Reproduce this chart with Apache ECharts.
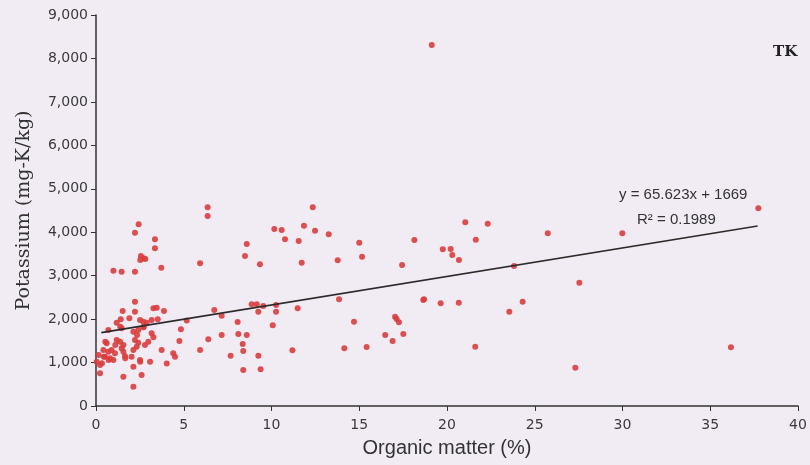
<!DOCTYPE html>
<html>
<head>
<meta charset="utf-8">
<script src="https://cdn.jsdelivr.net/npm/echarts@6/dist/echarts.min.js"></script>
<style>
  html, body { margin: 0; padding: 0; background: #f1ecf3; }
  #chart { width: 810px; height: 465px; }
</style>
</head>
<body>
<div id="chart"></div>
<script>
// organic matter (%) of each sample
const organicMatter = [
  2.22, 3.36, 3.36, 0.99, 1.46, 2.22, 2.43, 2.56, 2.72, 2.81, 2.52, 3.72, 2.22, 1.52, 2.22, 3.27, 3.46, 3.87,
  1.18, 1.41, 1.9, 2.51, 2.7, 2.89, 3.17, 3.52, 0.7, 1.46, 2.13, 2.41, 2.7, 3.17, 3.27, 0.61, 1.18, 1.37,
  1.56, 2.22, 2.41, 2.32, 2.79, 2.98, 0.42, 0.7, 0.89, 1.08, 0.51, 0.8, 0.99, 1.46, 1.56, 1.65, 2.13, 2.03,
  2.51, 3.08, 3.74, 4.03, 4.4, 4.5, 0.23, 0.04, 0.23, 1.56, 2.13, 2.6, 2.13,
  1.38, 2.34, 2.72, 0.53, 1.1, 0.15, 0.44, 0.72, 0.34, 1.67, 2.52,
  5.93, 6.36, 6.36, 10.16, 10.58, 10.77, 8.59, 8.49, 9.34, 6.74, 7.16, 8.87, 9.16, 9.53, 9.25, 10.26, 10.26,
  5.17, 4.84, 4.75, 8.07, 6.4, 7.16, 8.11, 8.59, 10.07, 5.93, 8.36, 8.39, 7.67, 9.25, 8.39, 9.38,
  12.35, 11.85, 12.48, 13.26, 11.55, 11.72, 13.77, 15.0, 15.16, 13.85, 11.49, 14.7, 11.19, 14.15,
  17.44, 18.14, 18.65, 17.04, 17.13, 17.26, 16.48, 16.9, 17.51, 15.42,
  21.04, 22.32, 25.74, 21.64, 19.76, 20.21, 20.3, 20.68, 23.82, 27.54, 18.69, 19.64, 20.67, 24.31, 23.55,
  21.61, 27.31, 37.74, 29.99, 36.18, 19.13
];
// potassium (mg-K/kg) of each sample
const potassium = [
  3990, 3837, 3630, 3115, 3092, 3092, 4182, 3453, 3400, 3384, 3361, 3180, 2400, 2187, 2171, 2249, 2263, 2187,
  1918, 1996, 2019, 1980, 1941, 1918, 1980, 1996, 1750, 1789, 1710, 1750, 1812, 1673, 1582, 1443, 1519, 1480,
  1404, 1519, 1457, 1365, 1404, 1480, 1289, 1250, 1289, 1213, 1135, 1098, 1059, 1328, 1250, 1151, 1289, 1135,
  1059, 1020, 1289, 981, 1213, 1135, 944, 1020, 753, 675, 905, 714, 444,
  1825, 1634, 1825, 1480, 1404, 1174, 1135, 1059, 983, 1098, 1020,
  3285, 4574, 4374, 4075, 4052, 3837, 3729, 3453, 3262, 2210, 2079, 2341, 2341, 2302, 2171, 2325, 2171,
  1970, 1766, 1496, 1934, 1535, 1634, 1657, 1634, 1857, 1289, 1427, 1266, 1158, 1158, 829, 845,
  4574, 4151, 4036, 3952, 3798, 3299, 3354, 3759, 3437, 2456, 2249, 1941, 1282, 1328,
  3246, 3821, 2440, 2056, 2003, 1927, 1634, 1496, 1657, 1358,
  4229, 4197, 3975, 3828, 3607, 3614, 3476, 3361, 3223, 2838, 2456, 2364, 2378, 2401, 2171,
  1365, 882, 4551, 3975, 1351, 8310
];

// linear trend shown on the chart
const trendSlope = 65.623;
const trendIntercept = 1669;
const trendRange = [0.3, 37.7];
const xTicks = [0, 40, 5];
const yTicks = [0, 9000, 1000];

const chart = echarts.init(document.getElementById('chart'));

const points = organicMatter.map((x, i) => [x, potassium[i]]);
const trend = trendRange.map(x => [x, trendSlope * x + trendIntercept]);

const tickFont = { fontFamily: 'DejaVu Sans', fontSize: 14, color: '#3a3a3a' };

chart.setOption({
  backgroundColor: '#f1ecf3',
  animation: false,
  grid: { left: 96, right: 12, top: 15, bottom: 59 },
  xAxis: {
    type: 'value',
    min: xTicks[0], max: xTicks[1], interval: xTicks[2],
    name: 'Organic matter (%)',
    nameLocation: 'middle',
    nameGap: 32,
    nameTextStyle: { fontFamily: 'Liberation Sans', fontSize: 20, color: '#333' },
    axisLine: { lineStyle: { color: '#333', width: 1.5 } },
    axisTick: { inside: false, length: 5, lineStyle: { color: '#333' } },
    axisLabel: Object.assign({ margin: 12 }, tickFont),
    splitLine: { show: false }
  },
  yAxis: {
    type: 'value',
    min: yTicks[0], max: yTicks[1], interval: yTicks[2],
    name: 'Potassium (mg-K/kg)',
    nameLocation: 'middle',
    nameGap: 62,
    nameTextStyle: { fontFamily: 'DejaVu Serif', fontSize: 19, color: '#333' },
    axisLine: { show: true, lineStyle: { color: '#333', width: 1.5 } },
    axisTick: { show: true, length: 5, lineStyle: { color: '#333' } },
    axisLabel: Object.assign({
      margin: 8,
      formatter: v => v.toLocaleString('en-US')
    }, tickFont),
    splitLine: { show: false }
  },
  series: [
    {
      type: 'scatter',
      data: points,
      symbol: 'circle',
      symbolSize: 6,
      itemStyle: { color: '#d93d3d', opacity: 0.9 }
    },
    {
      type: 'line',
      data: trend,
      symbol: 'none',
      lineStyle: { color: '#2b2b2b', width: 1.6 },
      z: 3
    }
  ],
  graphic: [
    {
      type: 'text', left: 619, top: 187,
      style: { text: 'y = 65.623x + 1669', fontFamily: 'Liberation Sans', fontSize: 15, fill: '#333' }
    },
    {
      type: 'text', left: 637, top: 212,
      style: { text: 'R\u00b2 = 0.1989', fontFamily: 'Liberation Sans', fontSize: 15, fill: '#333' }
    },
    {
      type: 'text', left: 773, top: 45,
      style: { text: 'TK', fontFamily: 'DejaVu Serif', fontWeight: 'bold', fontSize: 15, fill: '#222' }
    }
  ]
});
</script>
</body>
</html>
